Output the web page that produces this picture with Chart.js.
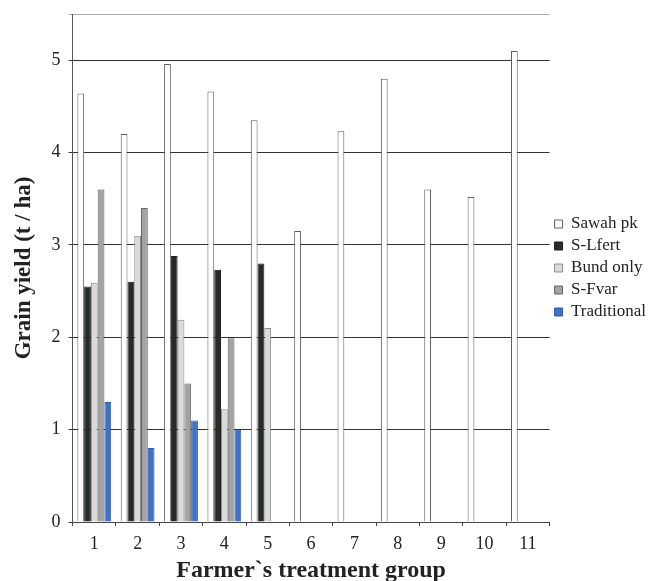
<!DOCTYPE html>
<html>
<head>
<meta charset="utf-8">
<script src="https://cdn.jsdelivr.net/npm/chart.js@4.4.0/dist/chart.umd.min.js"></script>
<style>
html,body{margin:0;padding:0;background:#fff;}
#wrap{width:652px;height:581px;}
</style>
</head>
<body>
<div id="wrap"><canvas id="c" width="652" height="581"></canvas></div>
<script>
const categories = ['1','2','3','4','5','6','7','8','9','10','11'];
const sawahPk     = [4.64, 4.20, 4.96, 4.66, 4.35, 3.15, 4.23, 4.80, 3.60, 3.52, 5.10];
const sLfert      = [2.55, 2.60, 2.88, 2.73, 2.80, null, null, null, null, null, null];
const bundOnly    = [2.59, 3.10, 2.19, 1.22, 2.10, null, null, null, null, null, null];
const sFvar       = [3.60, 3.40, 1.50, 1.99, null, null, null, null, null, null, null];
const traditional = [1.30, 0.80, 1.10, 1.00, null, null, null, null, null, null, null];
const seriesNames = ['Sawah pk', 'S-Lfert', 'Bund only', 'S-Fvar', 'Traditional'];
const yTicks = [0, 1, 2, 3, 4, 5];

const serif = "'Liberation Serif', 'DejaVu Serif', serif";

function mk(label, data, bg, border) {
  return {label, data, backgroundColor: bg, borderColor: border, borderWidth: 1,
          categoryPercentage: 0.78, barPercentage: 1.0, borderSkipped: 'bottom'};
}

new Chart(document.getElementById('c'), {
  type: 'bar',
  data: {
    labels: categories,
    datasets: [
      mk(seriesNames[0], sawahPk, '#ffffff', '#5e5e5e'),
      mk(seriesNames[1], sLfert, '#262b27', '#1a1d1a'),
      mk(seriesNames[2], bundOnly, '#dadada', '#8a8a8a'),
      mk(seriesNames[3], sFvar, '#a3a3a3', '#666666'),
      mk(seriesNames[4], traditional, '#3f72c6', '#2f5aa6')
    ]
  },
  options: {
    responsive: false,
    animation: false,
    layout: {padding: {top: 14, right: -4, bottom: 0, left: 10}},
    plugins: {
      tooltip: {enabled: false},
      legend: {
        position: 'right',
        align: 'center',
        fullSize: false,
        labels: {
          font: {family: serif, size: 17},
          color: '#222',
          boxWidth: 8,
          boxHeight: 8,
          padding: 5
        }
      }
    },
    scales: {
      x: {
        afterFit: (scale) => { scale.height = 59; },
        grid: {display: true, drawOnChartArea: false, drawTicks: true, tickLength: 4, color: '#444', offset: true},
        border: {display: true, color: '#444', width: 1},
        ticks: {font: {family: serif, size: 18, lineHeight: 1.0}, color: '#222', padding: 9},
        title: {display: true, text: 'Farmer`s treatment group', font: {family: serif, size: 24, weight: 'bold', lineHeight: 0.85}, color: '#222', padding: {top: 0, bottom: 0}}
      },
      y: {
        min: 0, max: 5.5,
        afterBuildTicks: (axis) => {
          axis.ticks = yTicks.map(v => ({value: v})).concat([{value: 5.5}]);
        },
        grid: {color: (ctx) => (ctx.tick && ctx.tick.value === 5.5) ? '#aaa' : '#333', lineWidth: 1, tickLength: 4},
        border: {display: true, color: '#555', width: 1},
        ticks: {
          font: (ctx) => (ctx.tick && ctx.tick.value === 5.5) ? {family: serif, size: 1} : {family: serif, size: 18},
          color: '#222', padding: 8,
          callback: (v) => yTicks.includes(v) ? String(v) : ''
        },
        title: {display: true, text: 'Grain yield (t / ha)', font: {family: serif, size: 23, weight: 'bold'}, color: '#222', padding: {top: 0, bottom: 6}}
      }
    }
  }
});
</script>
</body>
</html>
